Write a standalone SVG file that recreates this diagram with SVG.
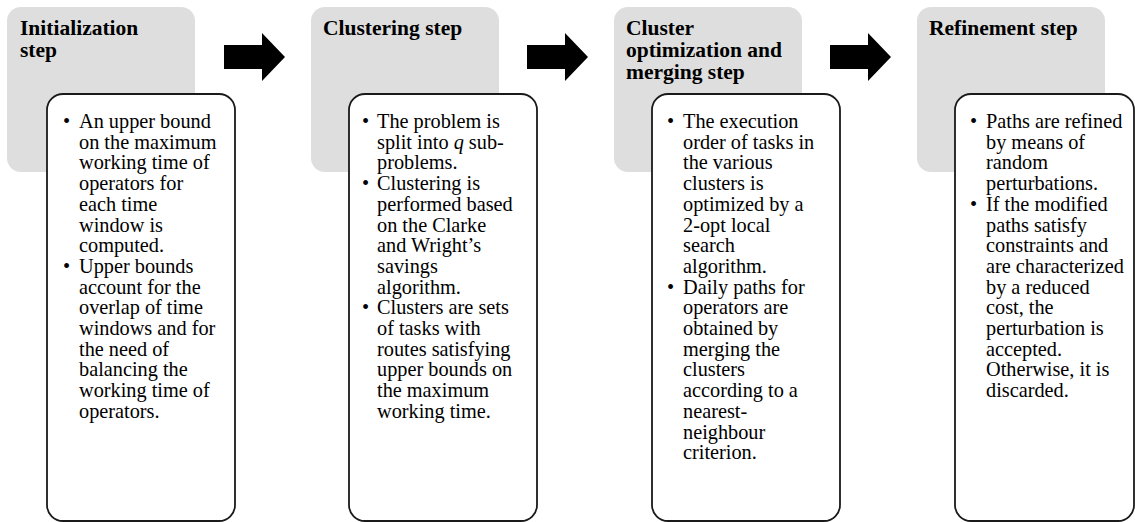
<svg xmlns="http://www.w3.org/2000/svg" xmlns:xlink="http://www.w3.org/1999/xlink" width="1135" height="522" viewBox="0 0 1135 522">
<style>
.hdr{fill:#dedede;stroke:none}
.box{fill:#ffffff;stroke:#1a1a1a;stroke-width:1.8}
.ht{font-family:"Liberation Serif","Times New Roman",serif;font-weight:bold;font-size:21.5px;fill:#000}
.bt{font-family:"Liberation Serif","Times New Roman",serif;font-size:20.3px;fill:#000}
.arrow{fill:#000}
</style>
<defs>
<path id="arr" d="M0,-12 L38,-12 L38,-24 L61,0 L38,24 L38,12 L0,12 Z"/>
</defs>
<rect width="1135" height="522" fill="#ffffff"/>

<g id="connectors">
<use xlink:href="#arr" class="arrow" x="224" y="57"/>
<use xlink:href="#arr" class="arrow" x="527" y="57"/>
<use xlink:href="#arr" class="arrow" x="830" y="57"/>
</g>

<g id="step1">
<rect class="hdr" x="7" y="7" width="188" height="165" rx="14"/>
<text class="ht"><tspan x="20" y="35">Initialization</tspan><tspan x="20" y="57">step</tspan></text>
<rect class="box" x="47" y="94" width="188" height="427" rx="16"/>
<text class="bt">
<tspan x="63" y="128">•</tspan><tspan x="79" y="128">An upper bound</tspan>
<tspan x="79" y="148.7">on the maximum</tspan>
<tspan x="79" y="169.4">working time of</tspan>
<tspan x="79" y="190.1">operators for</tspan>
<tspan x="79" y="210.8">each time</tspan>
<tspan x="79" y="231.5">window is</tspan>
<tspan x="79" y="252.2">computed.</tspan>
<tspan x="63" y="272.9">•</tspan><tspan x="79" y="272.9">Upper bounds</tspan>
<tspan x="79" y="293.6">account for the</tspan>
<tspan x="79" y="314.3">overlap of time</tspan>
<tspan x="79" y="335">windows and for</tspan>
<tspan x="79" y="355.7">the need of</tspan>
<tspan x="79" y="376.4">balancing the</tspan>
<tspan x="79" y="397.1">working time of</tspan>
<tspan x="79" y="417.8">operators.</tspan>
</text>
</g>

<g id="step2">
<rect class="hdr" x="311" y="7" width="188" height="165" rx="14"/>
<text class="ht"><tspan x="323" y="35">Clustering step</tspan></text>
<rect class="box" x="349" y="94" width="188" height="427" rx="16"/>
<text class="bt">
<tspan x="362" y="128">•</tspan><tspan x="377" y="128">The problem is</tspan>
<tspan x="377" y="148.7">split into <tspan font-style="italic">q</tspan> sub-</tspan>
<tspan x="377" y="169.4">problems.</tspan>
<tspan x="362" y="190.1">•</tspan><tspan x="377" y="190.1">Clustering is</tspan>
<tspan x="377" y="210.8">performed based</tspan>
<tspan x="377" y="231.5">on the Clarke</tspan>
<tspan x="377" y="252.2">and Wright’s</tspan>
<tspan x="377" y="272.9">savings</tspan>
<tspan x="377" y="293.6">algorithm.</tspan>
<tspan x="362" y="314.3">•</tspan><tspan x="377" y="314.3">Clusters are sets</tspan>
<tspan x="377" y="335">of tasks with</tspan>
<tspan x="377" y="355.7">routes satisfying</tspan>
<tspan x="377" y="376.4">upper bounds on</tspan>
<tspan x="377" y="397.1">the maximum</tspan>
<tspan x="377" y="417.8">working time.</tspan>
</text>
</g>

<g id="step3">
<rect class="hdr" x="614" y="7" width="188" height="165" rx="14"/>
<text class="ht"><tspan x="626" y="35">Cluster</tspan><tspan x="626" y="57">optimization and</tspan><tspan x="626" y="79">merging step</tspan></text>
<rect class="box" x="652" y="94" width="188" height="427" rx="16"/>
<text class="bt">
<tspan x="667" y="128">•</tspan><tspan x="683" y="128">The execution</tspan>
<tspan x="683" y="148.7">order of tasks in</tspan>
<tspan x="683" y="169.4">the various</tspan>
<tspan x="683" y="190.1">clusters is</tspan>
<tspan x="683" y="210.8">optimized by a</tspan>
<tspan x="683" y="231.5">2-opt local</tspan>
<tspan x="683" y="252.2">search</tspan>
<tspan x="683" y="272.9">algorithm.</tspan>
<tspan x="667" y="293.6">•</tspan><tspan x="683" y="293.6">Daily paths for</tspan>
<tspan x="683" y="314.3">operators are</tspan>
<tspan x="683" y="335">obtained by</tspan>
<tspan x="683" y="355.7">merging the</tspan>
<tspan x="683" y="376.4">clusters</tspan>
<tspan x="683" y="397.1">according to a</tspan>
<tspan x="683" y="417.8">nearest-</tspan>
<tspan x="683" y="438.5">neighbour</tspan>
<tspan x="683" y="459.2">criterion.</tspan>
</text>
</g>

<g id="step4">
<rect class="hdr" x="917" y="7" width="188" height="165" rx="14"/>
<text class="ht"><tspan x="929" y="35">Refinement step</tspan></text>
<rect class="box" x="955" y="94" width="179" height="427" rx="16"/>
<text class="bt">
<tspan x="970" y="128">•</tspan><tspan x="986" y="128">Paths are refined</tspan>
<tspan x="986" y="148.7">by means of</tspan>
<tspan x="986" y="169.4">random</tspan>
<tspan x="986" y="190.1">perturbations.</tspan>
<tspan x="970" y="210.8">•</tspan><tspan x="986" y="210.8">If the modified</tspan>
<tspan x="986" y="231.5">paths satisfy</tspan>
<tspan x="986" y="252.2">constraints and</tspan>
<tspan x="986" y="272.9">are characterized</tspan>
<tspan x="986" y="293.6">by a reduced</tspan>
<tspan x="986" y="314.3">cost, the</tspan>
<tspan x="986" y="335">perturbation is</tspan>
<tspan x="986" y="355.7">accepted.</tspan>
<tspan x="986" y="376.4">Otherwise, it is</tspan>
<tspan x="986" y="397.1">discarded.</tspan>
</text>
</g>
</svg>
